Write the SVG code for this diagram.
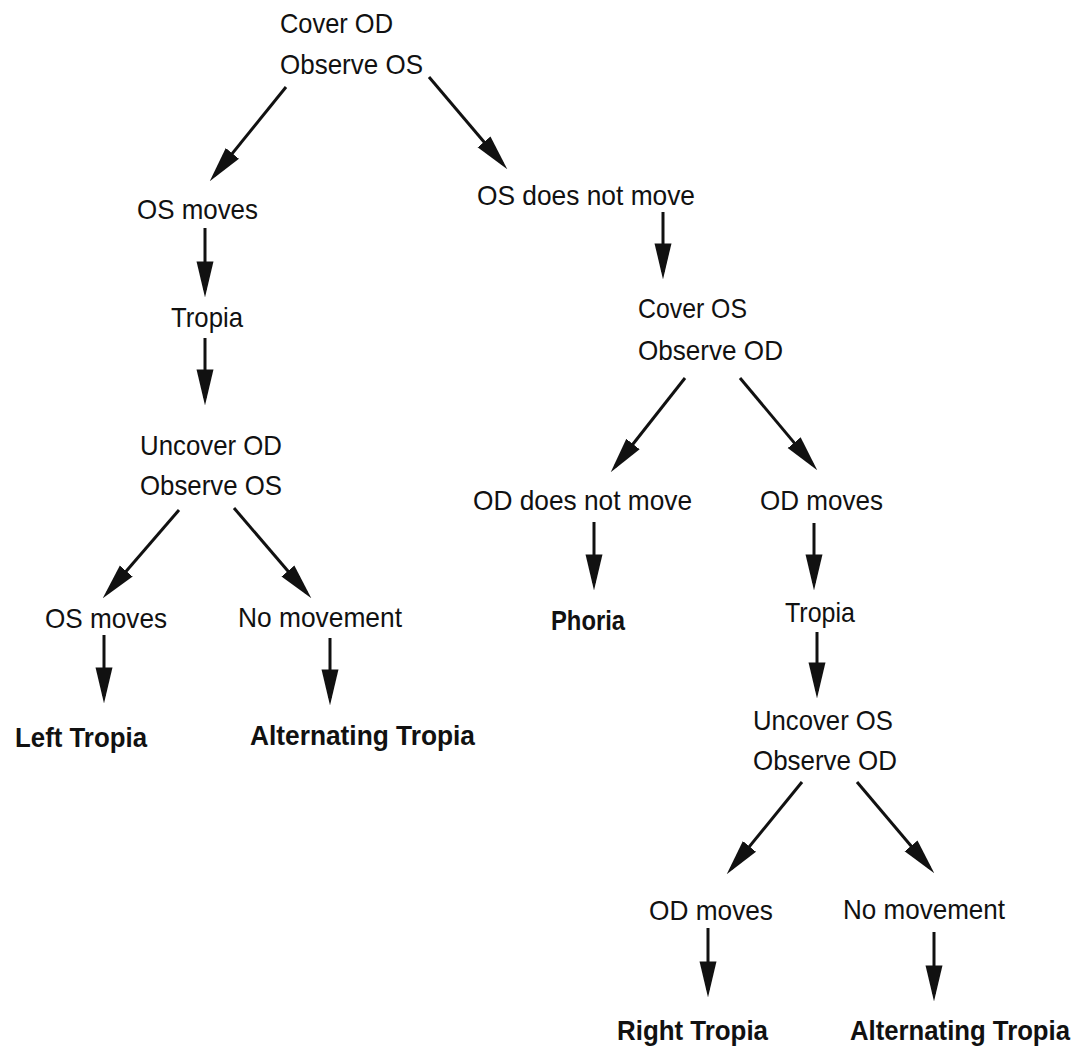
<svg xmlns="http://www.w3.org/2000/svg" width="1088" height="1054" viewBox="0 0 1088 1054">
<style>
text{font-family:"Liberation Sans",Arial,Helvetica,sans-serif;font-size:28px;fill:#111;}
text.b{font-weight:bold;}
.c line{stroke:#111;stroke-width:3;fill:none;marker-end:url(#ah);}
</style>
<defs>
<marker id="ah" markerUnits="userSpaceOnUse" markerWidth="36" markerHeight="18" viewBox="0 0 34 16" refX="27" refY="8" orient="auto">
<path d="M0,0 L34,8 L0,16 Z" fill="#111"/>
</marker>
</defs>
<rect width="1088" height="1054" fill="#fff"/>
<g id="connectors" class="c">
<line x1="286" y1="87" x2="214.4" y2="175.6"/>
<line x1="429" y1="77" x2="502.5" y2="163.7"/>
<line x1="205" y1="228" x2="205" y2="290"/>
<line x1="205" y1="338" x2="205" y2="398"/>
<line x1="179" y1="510" x2="107.6" y2="592.7"/>
<line x1="234" y1="508" x2="306.5" y2="592.7"/>
<line x1="104" y1="635" x2="104" y2="696"/>
<line x1="330" y1="638" x2="330" y2="698"/>
<line x1="663" y1="212" x2="663" y2="272"/>
<line x1="685" y1="378" x2="615.3" y2="466.5"/>
<line x1="740" y1="378" x2="812.5" y2="464.6"/>
<line x1="594" y1="522" x2="594" y2="583"/>
<line x1="814" y1="523" x2="814" y2="583"/>
<line x1="817" y1="632" x2="817" y2="691"/>
<line x1="802" y1="782" x2="731.4" y2="868.6"/>
<line x1="857" y1="782" x2="929.5" y2="867.7"/>
<line x1="708" y1="928" x2="708" y2="990"/>
<line x1="934" y1="932" x2="934" y2="994"/>
</g>
<g id="n-cover-od"><text x="280" y="33" textLength="113" lengthAdjust="spacingAndGlyphs">Cover OD</text><text x="280" y="74" textLength="143" lengthAdjust="spacingAndGlyphs">Observe OS</text></g>
<g id="n-os-moves"><text x="137" y="219" textLength="121" lengthAdjust="spacingAndGlyphs">OS moves</text></g>
<g id="n-tropia-l"><text x="171" y="327" textLength="72" lengthAdjust="spacingAndGlyphs">Tropia</text></g>
<g id="n-uncover-od"><text x="140" y="455" textLength="142" lengthAdjust="spacingAndGlyphs">Uncover OD</text><text x="140" y="495" textLength="142" lengthAdjust="spacingAndGlyphs">Observe OS</text></g>
<g id="n-os-moves-2"><text x="45" y="628" textLength="122" lengthAdjust="spacingAndGlyphs">OS moves</text></g>
<g id="n-no-move-l"><text x="238" y="627" textLength="164" lengthAdjust="spacingAndGlyphs">No movement</text></g>
<g id="n-left-tropia"><text class="b" x="15" y="747" textLength="132" lengthAdjust="spacingAndGlyphs">Left Tropia</text></g>
<g id="n-alt-tropia-l"><text class="b" x="250" y="745" textLength="225" lengthAdjust="spacingAndGlyphs">Alternating Tropia</text></g>
<g id="n-os-not-move"><text x="477" y="205" textLength="218" lengthAdjust="spacingAndGlyphs">OS does not move</text></g>
<g id="n-cover-os"><text x="638" y="318" textLength="109" lengthAdjust="spacingAndGlyphs">Cover OS</text><text x="638" y="360" textLength="145" lengthAdjust="spacingAndGlyphs">Observe OD</text></g>
<g id="n-od-not-move"><text x="473" y="510" textLength="219" lengthAdjust="spacingAndGlyphs">OD does not move</text></g>
<g id="n-od-moves"><text x="760" y="510" textLength="123" lengthAdjust="spacingAndGlyphs">OD moves</text></g>
<g id="n-phoria"><text class="b" x="551" y="630" textLength="74" lengthAdjust="spacingAndGlyphs">Phoria</text></g>
<g id="n-tropia-r"><text x="785" y="622" textLength="70" lengthAdjust="spacingAndGlyphs">Tropia</text></g>
<g id="n-uncover-os"><text x="753" y="730" textLength="140" lengthAdjust="spacingAndGlyphs">Uncover OS</text><text x="753" y="770" textLength="144" lengthAdjust="spacingAndGlyphs">Observe OD</text></g>
<g id="n-od-moves-2"><text x="649" y="920" textLength="124" lengthAdjust="spacingAndGlyphs">OD moves</text></g>
<g id="n-no-move-r"><text x="843" y="919" textLength="162" lengthAdjust="spacingAndGlyphs">No movement</text></g>
<g id="n-right-tropia"><text class="b" x="617" y="1040" textLength="151" lengthAdjust="spacingAndGlyphs">Right Tropia</text></g>
<g id="n-alt-tropia-r"><text class="b" x="850" y="1040" textLength="220" lengthAdjust="spacingAndGlyphs">Alternating Tropia</text></g>
</svg>
